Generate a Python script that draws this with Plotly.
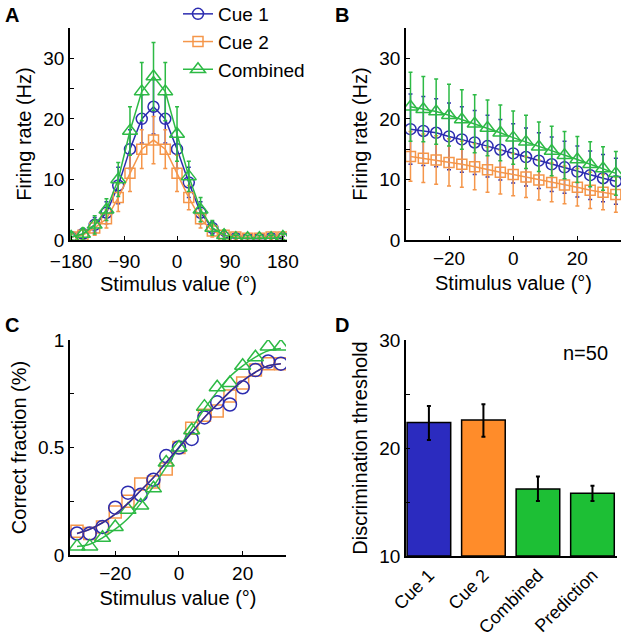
import plotly.graph_objects as go

# ---------------- data ----------------
# Panel A: tuning curves
a_x = [-180, -160, -140, -120, -100, -80, -60, -40, -20, 0, 20, 40, 60, 80, 100, 120, 140, 160, 180]
a_cue1 = [0.5, 1.0, 2.5, 4.5, 9.0, 15.0, 20.0, 22.0, 20.0, 15.0, 9.5, 4.5, 2.0, 0.5, 0.3, 0.2, 0.2, 0.3, 0.3]
a_cue1_err = [0.5, 0.8, 1.2, 1.8, 3.0, 3.2, 4.0, 4.5, 4.0, 3.2, 2.5, 1.8, 1.0, 0.5, 0.3, 0.3, 0.3, 0.3, 0.3]
a_cue2 = [0.5, 0.8, 2.0, 3.5, 7.0, 11.0, 15.0, 16.5, 15.0, 11.0, 7.0, 3.5, 1.5, 0.8, 0.5, 0.3, 0.3, 0.5, 0.5]
a_cue2_err = [0.5, 0.8, 1.2, 1.5, 2.3, 3.0, 3.2, 3.9, 3.2, 3.0, 2.0, 1.5, 1.0, 0.5, 0.4, 0.3, 0.3, 0.4, 0.4]
a_comb = [0.5, 1.0, 2.5, 5.0, 10.0, 18.0, 24.5, 27.0, 24.5, 17.5, 10.5, 5.0, 2.0, 0.8, 0.3, 0.3, 0.3, 0.3, 0.5]
a_comb_err = [0.8, 1.0, 1.5, 1.8, 2.8, 4.0, 4.8, 5.6, 4.8, 4.5, 2.5, 2.0, 1.2, 0.8, 0.5, 0.5, 0.5, 0.5, 0.5]

# Panel B: zoomed tuning around 0
b_x = [-32, -28, -24, -20, -16, -12, -8, -4, 0, 4, 8, 12, 16, 20, 24, 28, 32]
b_cue1 = [18.3, 18.0, 17.7, 17.1, 16.6, 16.1, 15.5, 14.9, 14.3, 13.7, 13.1, 12.5, 12.0, 11.3, 10.7, 10.2, 9.7]
b_cue1_err = [5.8, 5.7, 5.6, 5.5, 5.4, 5.3, 5.1, 5.0, 4.9, 4.8, 4.6, 4.5, 4.3, 4.2, 4.0, 3.9, 3.8]
b_cue2 = [13.8, 13.5, 13.2, 12.8, 12.5, 12.1, 11.6, 11.2, 10.8, 10.4, 9.9, 9.5, 9.1, 8.7, 8.2, 7.9, 7.5]
b_cue2_err = [4.1, 4.0, 4.0, 3.9, 3.8, 3.8, 3.7, 3.6, 3.5, 3.4, 3.3, 3.2, 3.1, 3.1, 3.0, 2.9, 2.9]
b_comb = [22.0, 21.6, 21.2, 20.6, 19.9, 19.2, 18.5, 17.7, 16.9, 16.2, 15.4, 14.7, 14.0, 13.3, 12.5, 11.8, 11.0]
b_comb_err = [5.7, 5.4, 5.4, 5.1, 4.9, 4.8, 4.6, 4.6, 4.4, 4.4, 4.1, 4.1, 3.9, 3.8, 3.7, 3.6, 3.6]

# Panel C: psychometric data and fits
c_x = [-32, -28, -24, -20, -16, -12, -8, -4, 0, 4, 8, 12, 16, 20, 24, 28, 32]
c_cue1 = [0.10, 0.10, 0.13, 0.22, 0.29, 0.28, 0.35, 0.46, 0.50, 0.54, 0.64, 0.71, 0.70, 0.78, 0.86, 0.90, 0.89]
c_cue2 = [0.11, 0.10, 0.13, 0.20, 0.25, 0.33, 0.34, 0.40, 0.50, 0.59, 0.65, 0.67, 0.74, 0.80, 0.86, 0.89, 0.89]
c_comb = [0.04, 0.04, 0.08, 0.13, 0.21, 0.23, 0.31, 0.43, 0.50, 0.58, 0.69, 0.78, 0.80, 0.88, 0.92, 0.97, 0.97]
c_fit_cue1 = [0.10, 0.12, 0.15, 0.19, 0.24, 0.30, 0.36, 0.43, 0.50, 0.57, 0.64, 0.70, 0.76, 0.81, 0.85, 0.88, 0.89]
c_fit_cue2 = [0.10, 0.12, 0.15, 0.19, 0.24, 0.30, 0.36, 0.43, 0.50, 0.57, 0.64, 0.70, 0.76, 0.81, 0.85, 0.88, 0.89]
c_fit_comb = [0.04, 0.05, 0.08, 0.12, 0.17, 0.24, 0.32, 0.41, 0.50, 0.59, 0.68, 0.76, 0.83, 0.88, 0.92, 0.95, 0.96]

# Panel D: thresholds
d_cats = ["Cue 1", "Cue 2", "Combined", "Prediction"]
d_vals = [22.35, 22.6, 16.2, 15.8]
d_err_plus = [1.55, 1.45, 1.15, 0.7]
d_err_minus = [1.6, 1.55, 1.1, 0.7]
d_colors = ["#2B2BBF", "#FF8C2A", "#1DBF35", "#1DBF35"]

# ---------------- styles ----------------
BLUE = "#2C2CB0"
ORANGE = "#F5964A"
GREEN = "#2DBA45"
FONT = "Liberation Sans, Arial, sans-serif"

fig = go.Figure()


def series(x, y, err, color, symbol, size, name, xa, ya, showlegend, mode="lines+markers"):
    kw = {}
    if err is not None:
        kw["error_y"] = dict(type="data", array=err, visible=True, color=color, thickness=1.5, width=2)
    fig.add_trace(go.Scatter(
        x=x, y=y, mode=mode, name=name, showlegend=showlegend,
        line=dict(color=color, width=1.5),
        marker=dict(symbol=symbol, size=size, color=color,
                    line=dict(color=color, width=1.5)),
        xaxis=xa, yaxis=ya, **kw))


# Panel A
series(a_x, a_cue1, a_cue1_err, BLUE, "circle-open", 11, "Cue 1", "x", "y", True)
series(a_x, a_cue2, a_cue2_err, ORANGE, "square-open", 10, "Cue 2", "x", "y", True)
series(a_x, a_comb, a_comb_err, GREEN, "triangle-up-open", 13, "Combined", "x", "y", True)

# Panel B
series(b_x, b_cue1, b_cue1_err, BLUE, "circle-open", 11, "Cue 1", "x2", "y2", False)
series(b_x, b_cue2, b_cue2_err, ORANGE, "square-open", 10, "Cue 2", "x2", "y2", False)
series(b_x, b_comb, b_comb_err, GREEN, "triangle-up-open", 13, "Combined", "x2", "y2", False)

# Panel C
series(c_x, c_cue2, None, ORANGE, "square-open", 12, "Cue 2", "x3", "y3", False, mode="markers")
series(c_x, c_cue1, None, BLUE, "circle-open", 13, "Cue 1", "x3", "y3", False, mode="markers")
series(c_x, c_comb, None, GREEN, "triangle-up-open", 14, "Combined", "x3", "y3", False, mode="markers")
for fy, col in [(c_fit_cue2, ORANGE), (c_fit_comb, GREEN), (c_fit_cue1, "#2A2AA0")]:
    fig.add_trace(go.Scatter(x=c_x, y=fy, mode="lines", showlegend=False,
                             line=dict(color=col, width=1.5, shape="spline"),
                             xaxis="x3", yaxis="y3"))

# Panel D
fig.add_trace(go.Bar(
    x=d_cats, y=[v - 10 for v in d_vals], base=10, marker=dict(color=d_colors, line=dict(color="black", width=1.5)),
    width=0.8, showlegend=False, xaxis="x4", yaxis="y4",
    error_y=dict(type="data", symmetric=False, array=d_err_plus, arrayminus=d_err_minus,
                 color="black", thickness=2, width=2)))

W, H = 622, 639


def px_x(a, b):
    return [a / W, b / W]


def px_y(top, bottom):
    return [1 - bottom / H, 1 - top / H]


axis_common = dict(showline=True, linecolor="black", linewidth=1.5, ticks="inside", ticklen=4,
                   tickcolor="black", tickwidth=1, showgrid=False, zeroline=False, mirror=False,
                   automargin=False,
                   tickfont=dict(family=FONT, size=19, color="black"),
                   title_font=dict(family=FONT, size=20, color="black"))

axis_d = {k: v for k, v in axis_common.items() if k not in ("ticks", "tickfont")}

fig.update_layout(
    width=W, height=H, margin=dict(l=0, r=0, t=0, b=0, autoexpand=False),
    plot_bgcolor="white", paper_bgcolor="white",
    font=dict(family=FONT, color="black"),
    legend=dict(x=178 / W, y=1 + 5 / H, xanchor="left", yanchor="top",
                font=dict(family=FONT, size=19, color="black"), bgcolor="rgba(0,0,0,0)",
                itemsizing="trace", tracegroupgap=0),
    xaxis=dict(domain=px_x(70, 287), range=[-182, 187], tickvals=[-180, -90, 0, 90, 180],
               ticklabelstandoff=3,
               title=dict(text="Stimulus value (°)", standoff=6), anchor="y", **axis_common),
    yaxis=dict(domain=px_y(28, 240), range=[0, 35], tickvals=[0, 5, 10, 15, 20, 25, 30],
               ticktext=["0", "", "10", "", "20", "", "30"],
               title=dict(text="Firing rate (Hz)", standoff=6), anchor="x", **axis_common),
    xaxis2=dict(domain=px_x(406, 621), range=[-33.4, 33.6], tickvals=[-20, 0, 20],
                title=dict(text="Stimulus value (°)", standoff=8), anchor="y2", **axis_common),
    yaxis2=dict(domain=px_y(28, 240), range=[0, 35], tickvals=[0, 5, 10, 15, 20, 25, 30],
                ticktext=["0", "", "10", "", "20", "", "30"],
                title=dict(text="Firing rate (Hz)", standoff=6), anchor="x2", **axis_common),
    xaxis3=dict(domain=px_x(70, 286), range=[-34.2, 33.6], tickvals=[-20, 0, 20],
                title=dict(text="Stimulus value (°)", standoff=8), anchor="y3", **axis_common),
    yaxis3=dict(domain=px_y(340, 555), range=[0, 1], tickvals=[0, 0.25, 0.5, 0.75, 1],
                ticktext=["0", "", "0.5", "", "1"],
                title=dict(text="Correct fraction (%)", standoff=6), anchor="x3", **axis_common),
    xaxis4=dict(domain=px_x(406, 617), range=[-0.42, 3.45], tickangle=-45, ticks="",
                tickfont=dict(family=FONT, size=18, color="black"),
                anchor="y4", **axis_d),
    yaxis4=dict(domain=px_y(340, 556), range=[10, 30], tickvals=[10, 15, 20, 25, 30],
                ticktext=["10", "", "20", "", "30"],
                title=dict(text="Discrimination threshold", standoff=6), anchor="x4", **axis_common),
    annotations=[
        dict(text="<b>A</b>", x=3 / W, y=1 - 15 / H, xref="paper", yref="paper", showarrow=False,
             xanchor="left", yanchor="middle", font=dict(family=FONT, size=20, color="black")),
        dict(text="<b>B</b>", x=333 / W, y=1 - 15 / H, xref="paper", yref="paper", showarrow=False,
             xanchor="left", yanchor="middle", font=dict(family=FONT, size=20, color="black")),
        dict(text="<b>C</b>", x=3 / W, y=1 - 325 / H, xref="paper", yref="paper", showarrow=False,
             xanchor="left", yanchor="middle", font=dict(family=FONT, size=20, color="black")),
        dict(text="<b>D</b>", x=333 / W, y=1 - 325 / H, xref="paper", yref="paper", showarrow=False,
             xanchor="left", yanchor="middle", font=dict(family=FONT, size=20, color="black")),
        dict(text="n=50", x=585 / W, y=1 - 353 / H, xref="paper", yref="paper", showarrow=False,
             xanchor="center", yanchor="middle", font=dict(family=FONT, size=20, color="black")),
    ],
)

fig.write_html("out.html", config={"displayModeBar": False},
               post_script="document.body.style.margin='0px';")
